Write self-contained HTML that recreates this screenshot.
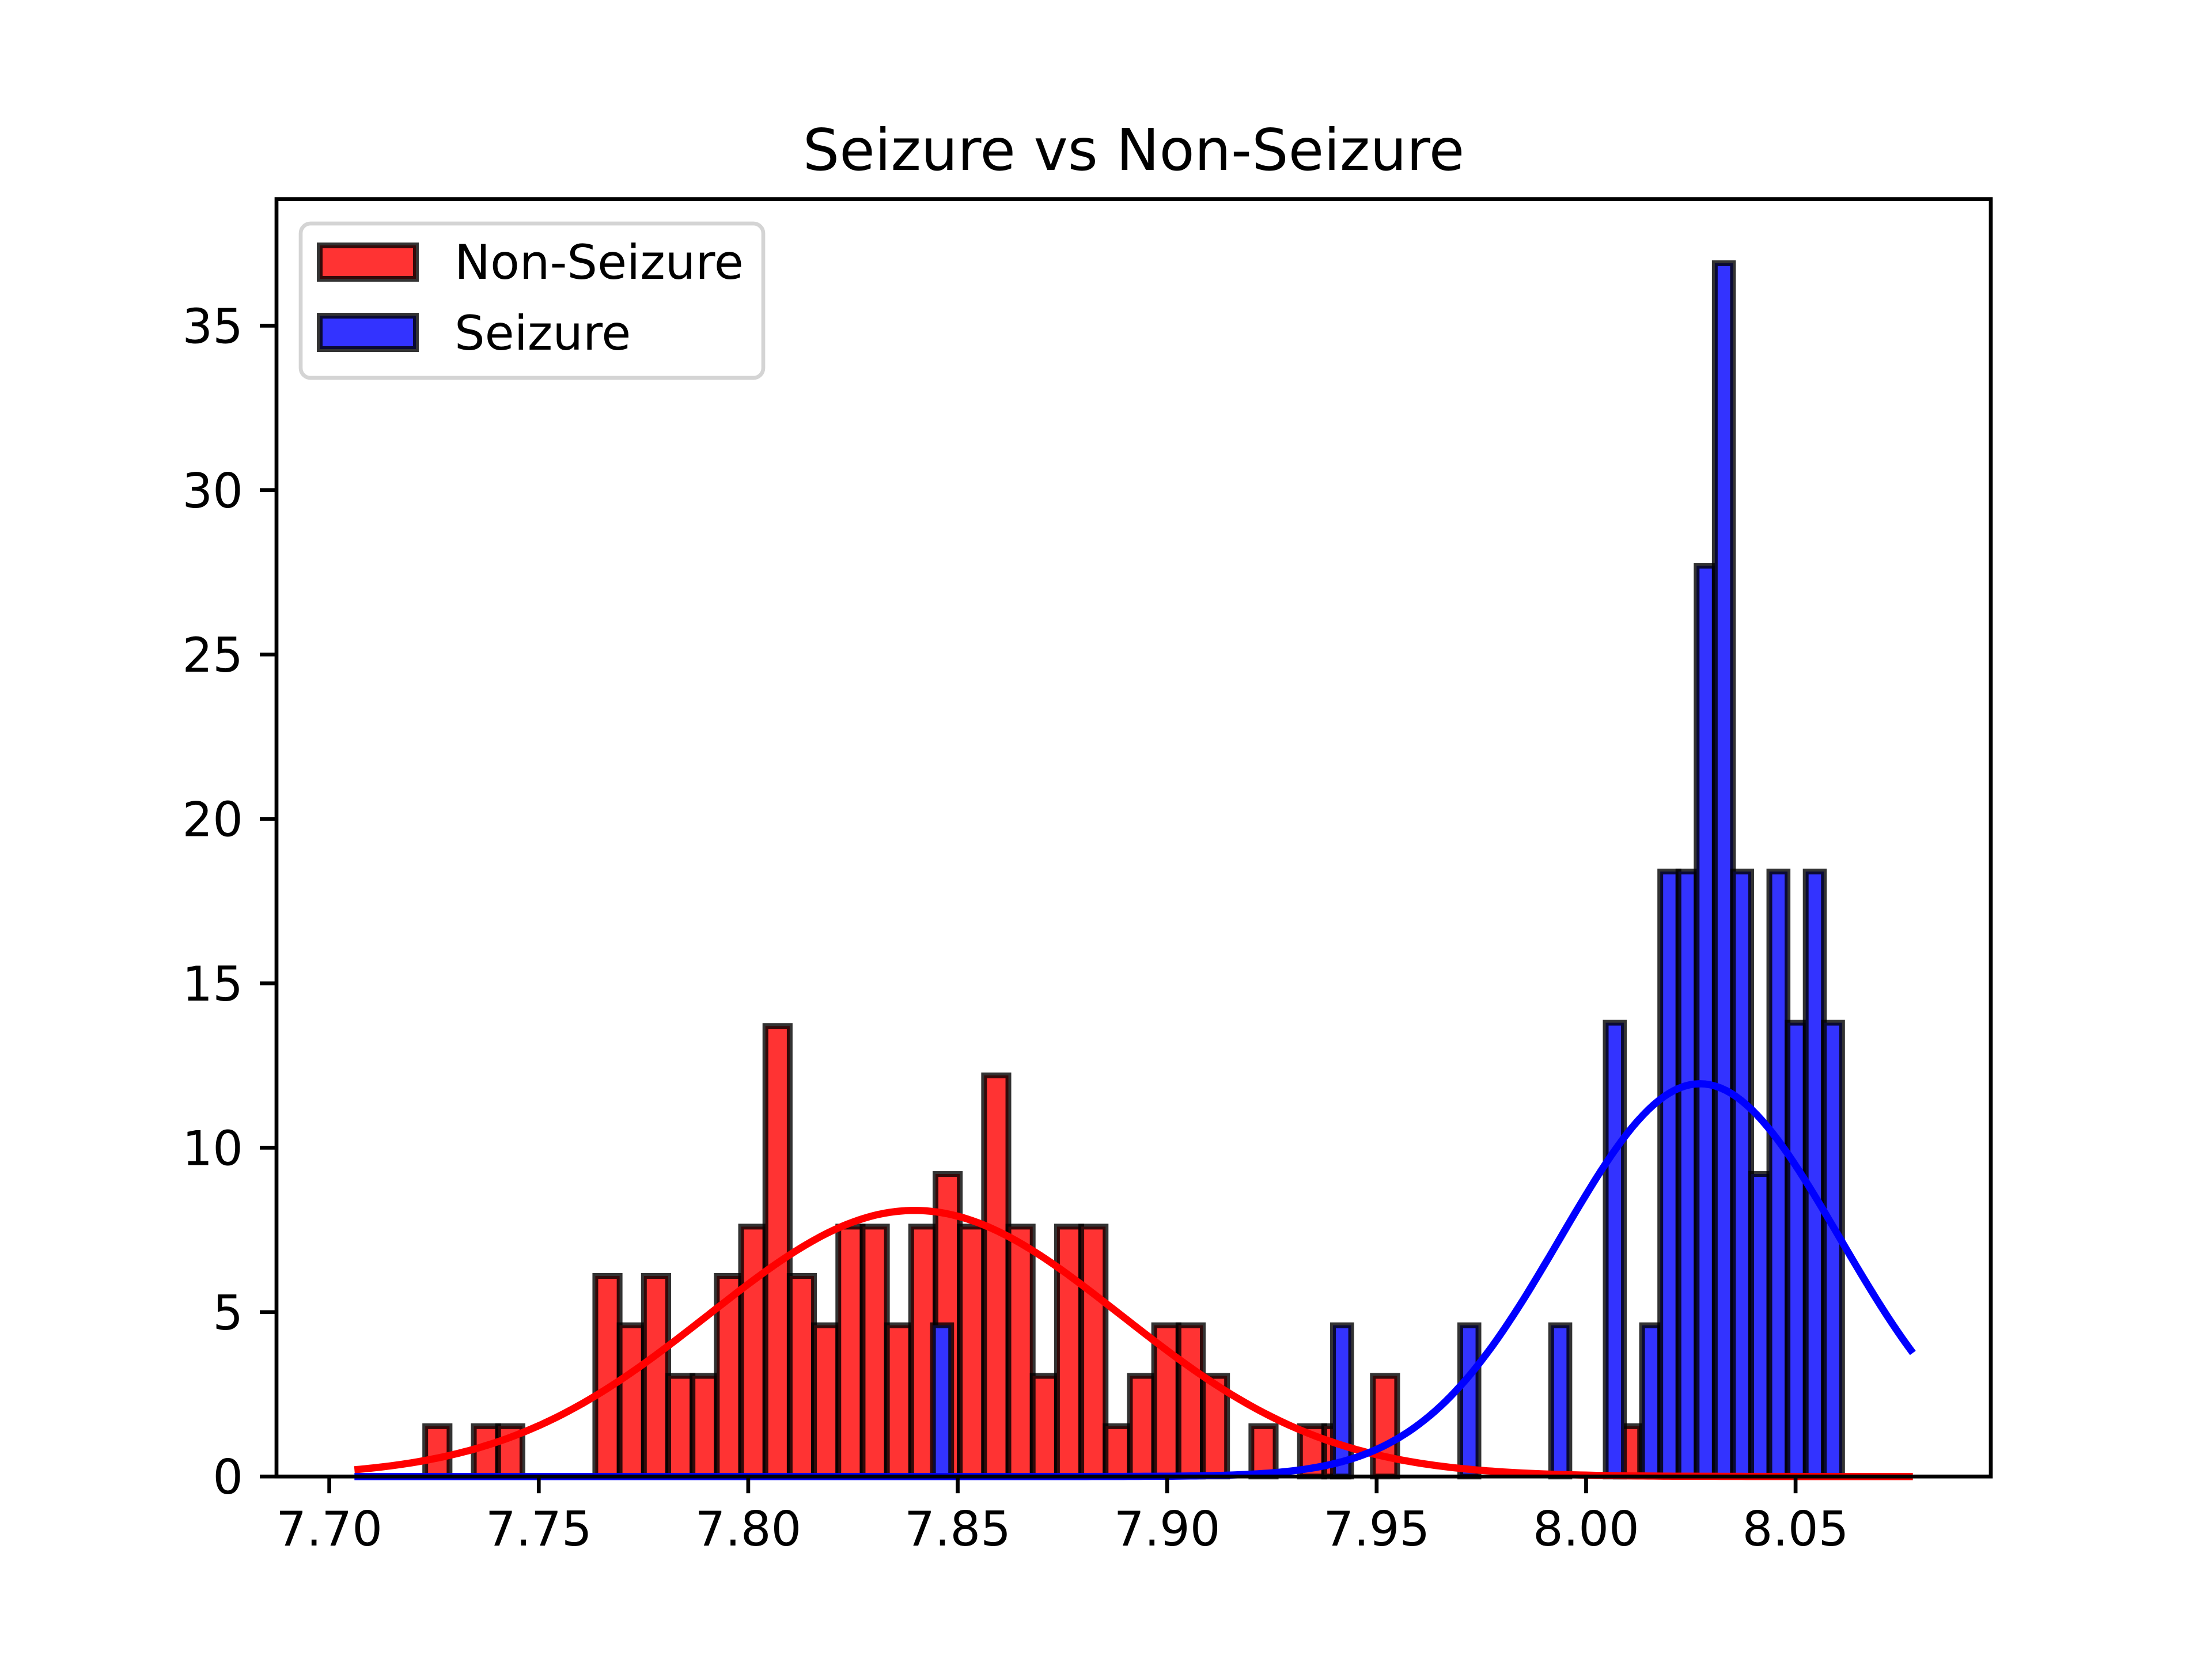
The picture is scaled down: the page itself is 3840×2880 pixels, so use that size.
<!DOCTYPE html>
<html><head><meta charset="utf-8"><style>
html,body{margin:0;padding:0;background:#fff;}
svg{display:block;}
text{font-family:"DejaVu Sans","Liberation Sans",sans-serif;fill:#000;}
</style></head><body>
<svg id="chart" width="3840" height="2880" viewBox="0 0 3840 2880" xmlns="http://www.w3.org/2000/svg">
<rect x="0" y="0" width="3840" height="2880" fill="#fff"/>
<g id="plot"></g>
<text x="1968" y="295" font-size="100" text-anchor="middle">Seizure vs Non-Seizure</text>
<g id="axes"></g>
<g>
<rect x="522" y="388" width="803" height="268" rx="17" fill="#fff" fill-opacity="0.8" stroke="#d4d4d4" stroke-width="6.7"/>
<rect x="555" y="426" width="167" height="58" fill="#ff3333" stroke="rgba(0,0,0,0.8)" stroke-width="10"/>
<text x="789" y="484" font-size="83">Non-Seizure</text>
<rect x="555" y="548" width="167" height="58" fill="#3333ff" stroke="rgba(0,0,0,0.8)" stroke-width="10"/>
<text x="789" y="607" font-size="83">Seizure</text>
</g>
</svg>
<script>
const redStart = 7.7229, redWidth = 0.0058;
const redDensity = [1.53,0,1.53,1.53,0,0,0,6.1,4.6,6.1,3.06,3.06,6.1,7.6,13.7,6.1,4.6,7.6,7.6,4.6,7.6,9.2,7.6,12.2,7.6,3.06,7.6,7.6,1.53,3.06,4.6,4.6,3.06,0,1.53,0,1.53,1.53,0,3.06,0,0,0,0,0,0,0,0,0,1.53];
const blueStart = 7.8441, blueWidth = 0.00434;
const blueDensity = [4.6,0,0,0,0,0,0,0,0,0,0,0,0,0,0,0,0,0,0,0,0,0,4.6,0,0,0,0,0,0,4.6,0,0,0,0,4.6,0,0,13.8,0,4.6,18.4,18.4,27.7,36.9,18.4,9.2,18.4,13.8,18.4,13.8];
const redFit = [7.8397, 0.0493];
const blueFit = [8.0272, 0.0334];
const curveRange = [7.706, 8.078];
const xTicks = [7.70,7.75,7.80,7.85,7.90,7.95,8.00,8.05];
const yTicks = [0,5,10,15,20,25,30,35];

const L=480,R=3456,T=345.6,B=2563.2, XMIN=7.6874, XMAX=8.0966, YMAX=38.85;
const sx=v=>L+(v-XMIN)/(XMAX-XMIN)*(R-L);
const sy=v=>B-v/YMAX*(B-T);
const NS='http://www.w3.org/2000/svg';
const plot=document.getElementById('plot'), axes=document.getElementById('axes');
function mk(tag,attrs,parent){const e=document.createElementNS(NS,tag);for(const k in attrs)e.setAttribute(k,attrs[k]);parent.appendChild(e);return e;}
function bars(start,w,vals,fill,name){
  vals.forEach((v,i)=>{ if(v<=0) return;
    const x0=sx(start+i*w), x1=sx(start+(i+1)*w);
    const r=mk('rect',{x:x0,y:sy(v),width:x1-x0,height:B-sy(v),fill:fill,stroke:'rgba(0,0,0,0.8)','stroke-width':10},plot);
    
    
  });
}
bars(redStart,redWidth,redDensity,'#ff3333','non-seizure');
bars(blueStart,blueWidth,blueDensity,'#3333ff','seizure');
function curve(p,color,name){
  let d='';const n=300;
  for(let i=0;i<=n;i++){const x=curveRange[0]+(curveRange[1]-curveRange[0])*i/n;
    const y=Math.exp(-0.5*((x-p[0])/p[1])**2)/(p[1]*Math.sqrt(2*Math.PI));
    d+=(i?'L':'M')+sx(x).toFixed(1)+','+sy(y).toFixed(1);}
  const e=mk('path',{d:d,fill:'none',stroke:color,'stroke-width':12.5,'stroke-linejoin':'round'},plot);
  
  
}
curve(redFit,'#ff0000','non-seizure-fit-curve');
curve(blueFit,'#0000ff','seizure-fit-curve');
const frame=mk('rect',{x:L,y:T,width:R-L,height:B-T,fill:'none',stroke:'#000','stroke-width':6.7},axes);


xTicks.forEach(t=>{const x=sx(t);
  const l=mk('line',{x1:x,x2:x,y1:B,y2:B+29,stroke:'#000','stroke-width':6.7},axes);
  
  
  const tx=mk('text',{x:x,y:B+29+29+62,'font-size':83,'text-anchor':'middle'},axes);
  
  
  tx.textContent=t.toFixed(2);
});
yTicks.forEach(t=>{const y=sy(t);
  const l=mk('line',{x1:L-29,x2:L,y1:y,y2:y,stroke:'#000','stroke-width':6.7},axes);
  
  
  const tx=mk('text',{x:L-29-29,y:y+30,'font-size':83,'text-anchor':'end'},axes);
  
  
  tx.textContent=String(t);
});
</script>
</body></html>
